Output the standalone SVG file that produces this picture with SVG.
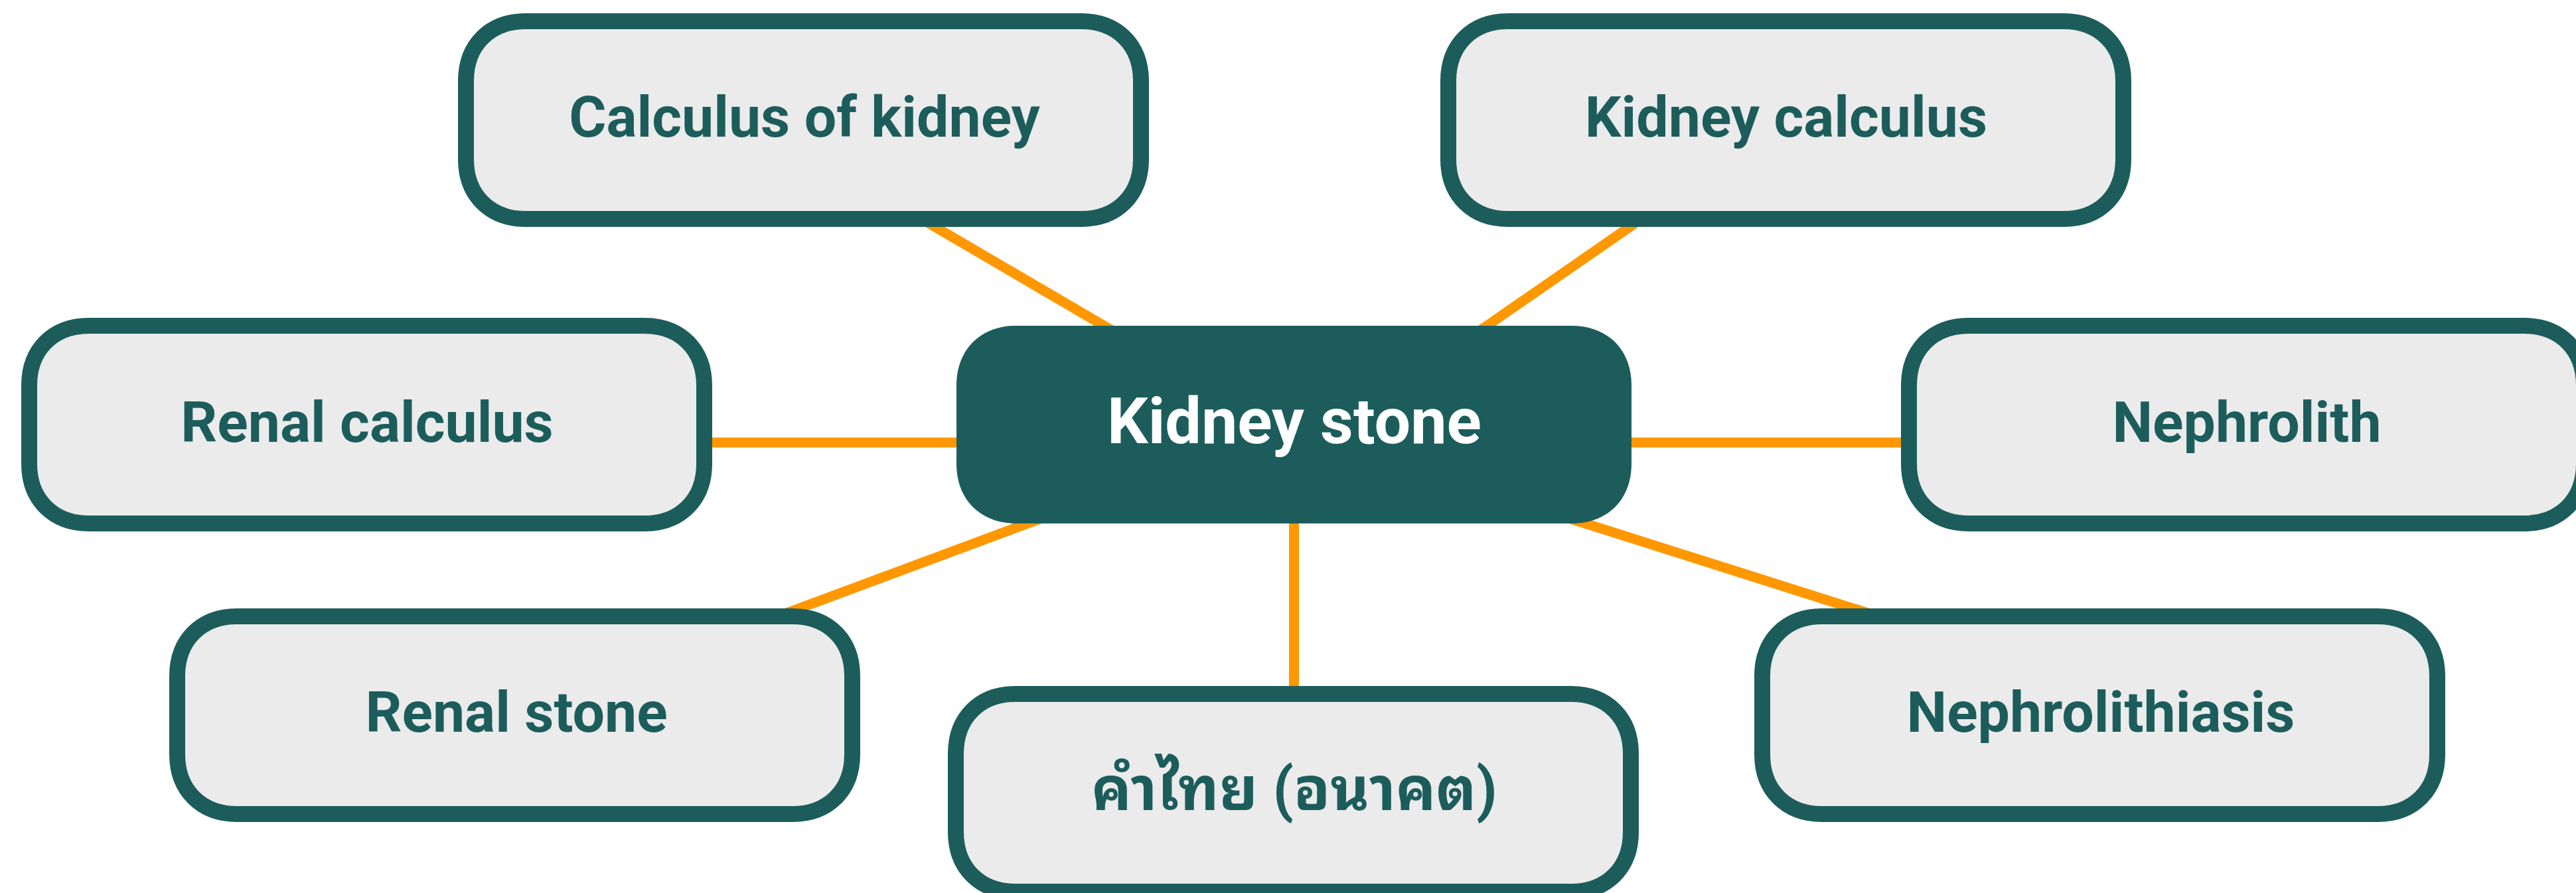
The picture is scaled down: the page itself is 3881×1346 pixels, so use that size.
<svg xmlns="http://www.w3.org/2000/svg" xmlns:xlink="http://www.w3.org/1999/xlink" width="3881" height="1346" viewBox="0 0 3881 1346">
<style>
.bg{fill:#ffffff}
.conn line{stroke:#FF9800;stroke-width:15;stroke-linecap:butt}
.leaf use{fill:#EBEBEB;stroke:#1C5D5C;stroke-width:24}
.root use{fill:#1C5D5C}
.leaf text{font-family:Roboto,"Noto Sans Thai Looped","Noto Sans Thai","Noto Sans",sans-serif;font-weight:700;font-size:86px;fill:#1C5D5C;text-anchor:middle}
.leaf text.th{font-size:90px}
.root text{font-family:Roboto,"Noto Sans",sans-serif;font-weight:700;font-size:97px;fill:#ffffff;text-anchor:middle}
</style>
<defs>
<path id="box" d="M90,0 H927 C981,0 1017,36 1017,90 V208 C1017,262 981,298 927,298 H90 C36,298 0,262 0,208 V90 C0,36 36,0 90,0 Z"/>
</defs>
<rect class="bg" x="0" y="0" width="3881" height="1346"/>
<g id="connectors" class="conn">
<line x1="1337" y1="300" x2="1730" y2="530"/>
<line x1="2516" y1="300" x2="2184" y2="530"/>
<line x1="1000" y1="667" x2="1500" y2="667"/>
<line x1="2400" y1="667" x2="2920" y2="667"/>
<line x1="1949.5" y1="760" x2="1949.5" y2="1080"/>
<line x1="1100" y1="955.6" x2="1650" y2="751.3"/>
<line x1="2300" y1="761" x2="2900" y2="951.3"/>
</g>
<g id="node-calculus-of-kidney" class="leaf">
<use xlink:href="#box" x="702" y="32"/>
<text x="1212" y="206">Calculus of kidney</text>
</g>
<g id="node-kidney-calculus" class="leaf">
<use xlink:href="#box" x="2182" y="32"/>
<text x="2691" y="206">Kidney calculus</text>
</g>
<g id="node-renal-calculus" class="leaf">
<use xlink:href="#box" x="44" y="491"/>
<text x="553" y="666">Renal calculus</text>
</g>
<g id="node-nephrolith" class="leaf">
<use xlink:href="#box" x="2876" y="491"/>
<text x="3385" y="666">Nephrolith</text>
</g>
<g id="node-renal-stone" class="leaf">
<use xlink:href="#box" x="267" y="929"/>
<text x="778" y="1103">Renal stone</text>
</g>
<g id="node-thai" class="leaf">
<use xlink:href="#box" x="1440" y="1046"/>
<text class="th" x="1950" y="1221">คำไทย (อนาคต)</text>
</g>
<g id="node-nephrolithiasis" class="leaf">
<use xlink:href="#box" x="2655" y="929"/>
<text x="3165" y="1103">Nephrolithiasis</text>
</g>
<g id="node-kidney-stone" class="root">
<use xlink:href="#box" x="1441" y="491"/>
<text x="1950" y="668">Kidney stone</text>
</g>
</svg>
